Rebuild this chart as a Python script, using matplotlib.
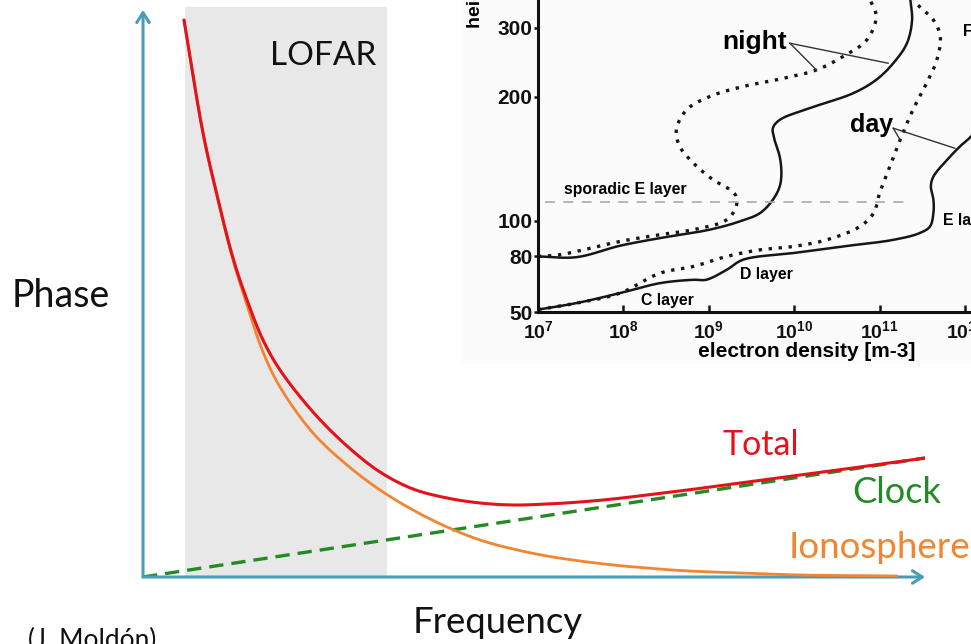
import numpy as np
import matplotlib
matplotlib.use('Agg')
import matplotlib.pyplot as plt
from matplotlib.patches import Rectangle
from matplotlib.ticker import NullLocator, FixedLocator

plt.rcParams['font.family'] = ['Lato', 'DejaVu Sans']
plt.rcParams['mathtext.fontset'] = 'custom'
plt.rcParams['mathtext.rm'] = 'Liberation Sans'
plt.rcParams['mathtext.bf'] = 'Liberation Sans:bold'

# ---------------- Main schematic (arbitrary units) ----------------
freq_total = [0.41, 0.60, 0.74, 0.90, 1.04, 1.20, 1.37, 1.70, 2.04, 2.37, 2.70, 3.04,
              3.37, 3.70, 4.04, 4.37, 4.70, 5.04, 5.37, 5.97, 6.57, 7.17, 7.82]
phase_total = [5.57, 4.44, 3.82, 3.19, 2.77, 2.37, 2.07, 1.65, 1.31, 1.05, 0.88, 0.79,
               0.74, 0.72, 0.73, 0.75, 0.78, 0.82, 0.86, 0.94, 1.02, 1.10, 1.19]
freq_iono = [0.41, 0.60, 0.74, 0.90, 1.04, 1.20, 1.37, 1.70, 2.04, 2.37, 2.70, 3.04,
             3.37, 3.70, 4.04, 4.37, 4.70, 5.04, 5.37, 5.97, 6.57, 7.54]
phase_iono = [5.57, 4.44, 3.81, 3.17, 2.72, 2.25, 1.90, 1.44, 1.12, 0.87, 0.67, 0.50,
              0.37, 0.28, 0.21, 0.16, 0.12, 0.09, 0.065, 0.04, 0.02, 0.01]
freq_clock = [0.0, 7.82]
phase_clock = [0.0, 1.19]
lofar_band = [0.42, 2.44]

# ---------------- Inset: electron density profiles ----------------
# log10(electron density [m^-3]) and height [km]
night_solid_logn = [7.0, 7.45, 7.96, 8.43, 9.01, 9.36, 9.60, 9.75, 9.83, 9.85, 9.83, 9.77,
                    9.75, 9.83, 10.18, 10.69, 10.96, 11.16, 11.32, 11.38, 11.36]
night_solid_h = [80, 79.6, 86.0, 90.3, 95.0, 99.6, 106.2, 116.9, 127.6, 138.3, 151.7, 165.1,
                 174.5, 181.2, 190.6, 204.8, 224.2, 248.3, 277.3, 311, 340]
night_dot_logn = [7.0, 7.25, 7.96, 8.43, 8.82, 9.21, 9.32, 9.32, 9.25, 9.05, 8.82, 8.66,
                  8.62, 8.74, 9.01, 9.40, 9.79, 10.26, 10.57, 10.85, 10.96, 10.89]
night_dot_h = [80, 80.9, 88.4, 92.2, 95.0, 100.8, 111.5, 119.6, 124.9, 133.0, 146.4, 159.8,
               173.2, 189.3, 200, 214.5, 224.2, 238.6, 258, 282.1, 316, 340]
day_solid_logn = [7.0, 7.45, 7.96, 8.43, 8.82, 8.97, 9.21, 9.40, 9.99, 10.57, 11.16, 11.47,
                  11.59, 11.63, 11.63, 11.60, 11.63, 11.79, 11.94, 12.07, 12.33]
day_solid_h = [51.3, 54.8, 60.2, 65.6, 67.4, 67.4, 72.8, 78.2, 81.9, 85.6, 89.3, 93.1,
               96.8, 106.2, 116.9, 127.6, 135.6, 149, 159.8, 167.8, 189.3]
day_dot_logn = [7.0, 7.45, 7.96, 8.43, 8.82, 9.21, 9.60, 9.99, 10.38, 10.77, 10.93, 11.00,
                11.12, 11.24, 11.39, 11.55, 11.67, 11.71, 11.63, 11.47, 11.40]
day_dot_h = [51.3, 54.8, 60.2, 71.0, 74.6, 80.0, 83.7, 85.6, 89.3, 96.8, 106.2, 122.2,
             143.7, 165.1, 189.3, 219.3, 253.1, 287, 311, 330, 340]
sporadic_e_h = 115.5
sporadic_e_logn = [7.08, 11.36]
height_ticks = [50, 80, 100, 200, 300]
density_ticks = [7, 8, 9, 10, 11, 12]

# non-uniform height axis of the original figure
H_REF = [50, 80, 100, 200, 300, 400]
P_REF = [0.0, 55.6, 91.3, 215.6, 284.6, 353.6]


def fwd(h):
    return np.interp(np.asarray(h, dtype=float), H_REF, P_REF)


def inv(p):
    return np.interp(np.asarray(p, dtype=float), P_REF, H_REF)


def smooth(x, y, sx=1.0, sy=1.0, n=16):
    """Centripetal Catmull-Rom curve drawn through the read points."""
    P = np.column_stack([np.asarray(x, float) * sx, np.asarray(y, float) * sy])
    P = np.vstack([2 * P[0] - P[1], P, 2 * P[-1] - P[-2]])
    out = []
    for i in range(1, len(P) - 2):
        p0, p1, p2, p3 = P[i - 1], P[i], P[i + 1], P[i + 2]
        t0 = 0.0
        t1 = t0 + max(np.linalg.norm(p1 - p0), 1e-6) ** 0.5
        t2 = t1 + max(np.linalg.norm(p2 - p1), 1e-6) ** 0.5
        t3 = t2 + max(np.linalg.norm(p3 - p2), 1e-6) ** 0.5
        t = np.linspace(t1, t2, n, endpoint=False)[:, None]
        a1 = (t1 - t) / (t1 - t0) * p0 + (t - t0) / (t1 - t0) * p1
        a2 = (t2 - t) / (t2 - t1) * p1 + (t - t1) / (t2 - t1) * p2
        a3 = (t3 - t) / (t3 - t2) * p2 + (t - t2) / (t3 - t2) * p3
        b1 = (t2 - t) / (t2 - t0) * a1 + (t - t0) / (t2 - t0) * a2
        b2 = (t3 - t) / (t3 - t1) * a2 + (t - t1) / (t3 - t1) * a3
        c = (t2 - t) / (t2 - t1) * b1 + (t - t1) / (t2 - t1) * b2
        out.append(c)
    out.append(P[-2][None, :])
    out = np.vstack(out)
    return out[:, 0] / sx, out[:, 1] / sy


def profile(logn, h):
    lx, py = smooth(logn, fwd(h), sx=85.4, sy=1.0)
    return 10.0 ** lx, inv(py)


W, H = 971, 644
fig = plt.figure(figsize=(W / 100, H / 100), dpi=100)

AX_COL = '#4a9bb5'
RED = '#e3121b'
ORANGE = '#f08532'
GREEN = '#238b23'

ax = fig.add_axes([143 / W, 67 / H, 782 / W, 567 / H], zorder=0)
ax.set_xlim(0, 7.82)
ax.set_ylim(0, 5.67)
ax.axis('off')

ax.axvspan(lofar_band[0], lofar_band[1], ymin=0, ymax=570 / 567, color='#e8e8e8',
           zorder=0, clip_on=False, lw=0)

ax.plot(freq_clock, phase_clock, color=GREEN, lw=2.4, dashes=(4.3, 2.4), zorder=3)
ax.plot(*smooth(freq_iono, phase_iono), color=ORANGE, lw=2.0, zorder=4,
        solid_capstyle='round')
ax.plot(*smooth(freq_total, phase_total), color=RED, lw=2.2, zorder=5,
        solid_capstyle='round')

arrow_kw = dict(arrowstyle='->,head_length=0.7,head_width=0.45', lw=2.2, color=AX_COL,
                shrinkA=0, shrinkB=0)
ax.annotate('', xy=(0, 5.67), xytext=(0, 0), arrowprops=arrow_kw, annotation_clip=False)
ax.annotate('', xy=(7.82, 0), xytext=(0, 0), arrowprops=arrow_kw, annotation_clip=False)

ax.text(1.80, 5.12, 'LOFAR', fontsize=24, ha='center', va='baseline', color='#111111')
ax.text(6.18, 1.22, 'Total', fontsize=24.5, ha='center', va='baseline', color=RED)
ax.text(7.54, 0.74, 'Clock', fontsize=26, ha='center', va='baseline', color=GREEN)
ax.text(7.36, 0.19, 'Ionosphere', fontsize=26.5, ha='center', va='baseline', color=ORANGE)

fig.text(61 / W, 1 - 307 / H, 'Phase', fontsize=27, ha='center', va='baseline', color='#111111')
fig.text(498 / W, 1 - 633 / H, 'Frequency', fontsize=26.3, ha='center', va='baseline',
         color='#111111')
fig.text(28 / W, -4 / H, '(J. Moldón)', fontsize=19, ha='left', va='baseline', color='#111111')

# ---------------- Inset ----------------
fig.add_artist(Rectangle((462 / W, 1 - 364 / H), (W - 462) / W, 364 / H,
                         transform=fig.transFigure, facecolor='#fbfbfb',
                         edgecolor='none', zorder=0.5))

axi = fig.add_axes([538 / W, 1 - 312 / H, (W - 538) / W, 312 / H], zorder=1)
axi.patch.set_alpha(0)
axi.set_xscale('log')
axi.set_yscale('function', functions=(fwd, inv))
axi.set_xlim(1e7, 10 ** 12.07)
axi.set_ylim(50, 340)
for s in ['top', 'right']:
    axi.spines[s].set_visible(False)
for s in ['left', 'bottom']:
    axi.spines[s].set_linewidth(2.2)
    axi.spines[s].set_color('#111111')

BF = dict(family='Liberation Sans', fontweight='bold')
axi.xaxis.set_major_locator(FixedLocator([10.0 ** d for d in density_ticks]))
axi.xaxis.set_minor_locator(NullLocator())
axi.set_xticklabels([r'$\mathbf{10^{%d}}$' % d for d in density_ticks], fontsize=14)
axi.yaxis.set_major_locator(FixedLocator(height_ticks))
axi.yaxis.set_minor_locator(NullLocator())
axi.set_yticklabels([str(h) for h in height_ticks], fontsize=15, **BF)
axi.tick_params(axis='x', direction='in', length=5, width=1.8, pad=5, colors='#111111')
axi.tick_params(axis='y', direction='out', length=3, width=1.8, pad=1, colors='#111111')

LC = '#161616'
axi.plot(*profile(night_solid_logn, night_solid_h), color=LC, lw=1.8)
axi.plot(*profile(day_solid_logn, day_solid_h), color=LC, lw=1.8)
axi.plot(*profile(night_dot_logn, night_dot_h), color=LC, lw=2.4, ls=(0, (1, 2.0)))
axi.plot(*profile(day_dot_logn, day_dot_h), color=LC, lw=2.4, ls=(0, (1, 2.0)))
axi.plot(10.0 ** np.array(sporadic_e_logn), [sporadic_e_h] * 2, color='#aaaaaa', lw=1.2,
         dashes=(6, 5))

# annotation leader lines
axi.plot([10 ** 9.95, 10 ** 11.10], [277.3, 248.3], color='#333333', lw=1.0)
axi.plot([10 ** 9.95, 10 ** 10.26], [277.3, 238.6], color='#333333', lw=1.0)
axi.plot([10 ** 11.16, 10 ** 11.88], [174.5, 158.4], color='#333333', lw=1.0)
axi.plot([10 ** 11.16, 10 ** 11.24], [174.5, 165.1], color='#333333', lw=1.0)

axi.text(10 ** 9.54, 279.7, 'night', fontsize=19, ha='center', va='center', **BF)
axi.text(10 ** 10.91, 177.2, 'day', fontsize=18, ha='center', va='center', **BF)
axi.text(10 ** 8.02, 125.5, 'sporadic E layer', fontsize=11.4, ha='center', va='center', **BF)
axi.text(10 ** 9.68, 70.1, 'D layer', fontsize=11.4, ha='center', va='center', **BF)
axi.text(10 ** 8.52, 56.1, 'C layer', fontsize=11.4, ha='center', va='center', **BF)
axi.text(10 ** 11.74, 100.0, 'E layer', fontsize=11.4, ha='left', va='center', **BF)
axi.text(10 ** 11.98, 294.2, 'F layer', fontsize=11.4, ha='left', va='center', **BF)
axi.text(0.621, -0.128, 'electron density [m-3]', transform=axi.transAxes, fontsize=15,
         ha='center', va='center', **BF)
fig.text(475 / W, 1 - 28 / H, 'height [km]', rotation=90, ha='center', va='bottom',
         fontsize=14, **BF)

fig.savefig('out.png', dpi=100)
